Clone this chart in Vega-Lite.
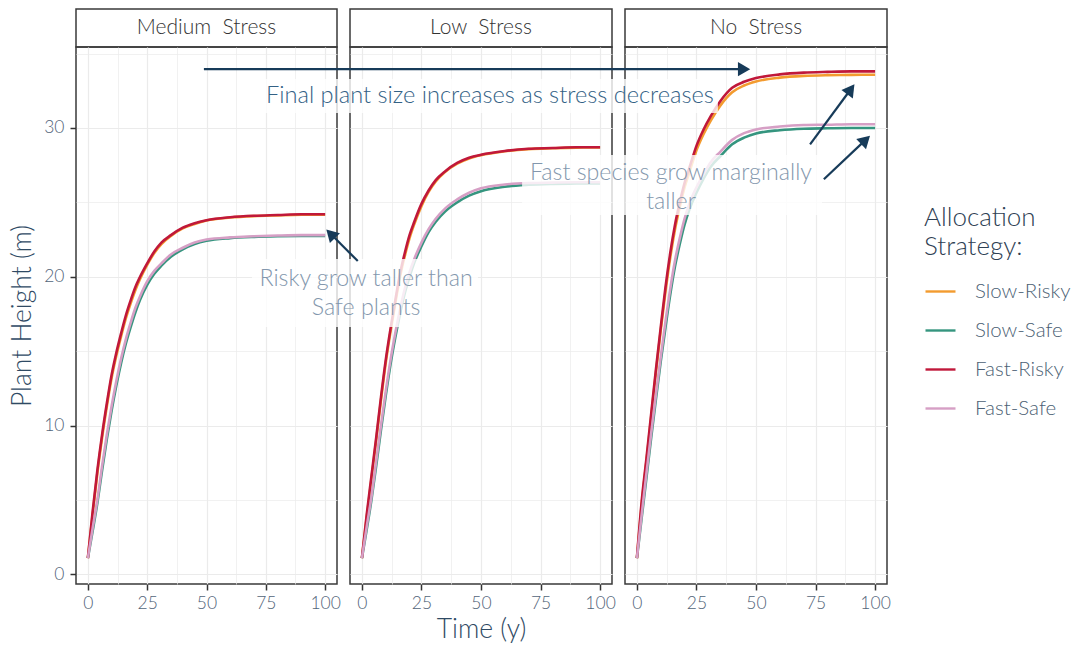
{
  "$schema": "https://vega.github.io/schema/vega-lite/v6.json",
  "background": "white",
  "padding": {"left": 8, "top": 8, "right": 5, "bottom": 0},
  "config": {
    "font": "Lato",
    "view": {"stroke": "#3a3a3a", "strokeWidth": 1.5},
    "axis": {"domain": false, "grid": true, "gridColor": "#EBEBEB", "tickColor": "#333333", "tickSize": 6, "tickWidth": 1.5, "labelFont": "Lato", "labelFontWeight": 300, "labelFontSize": 17.5, "labelColor": "#526479", "labelPadding": 4, "titleFont": "Lato", "titleFontSize": 26.5, "titleFontWeight": 300, "titleColor": "#2F4A64", "labelOverlap": false, "labelFlush": false},
    "legend": {"orient": "none", "legendX": 848, "legendY": 196, "symbolType": "stroke", "symbolSize": 900, "symbolStrokeWidth": 2.4, "labelFont": "Lato", "labelFontWeight": 300, "labelFontSize": 20.5, "labelColor": "#4C5F74", "titleFont": "Lato", "titleFontSize": 26, "titleLineHeight": 29, "titleFontWeight": 300, "titleColor": "#2E4053", "rowPadding": 12, "labelOffset": 18, "titlePadding": 15}
  },
  "datasets": {
    "growth": [
      {"p":"Medium","s":"Slow-Risky","t":0,"h":1.1},{"p":"Medium","s":"Slow-Risky","t":2,"h":4.0},{"p":"Medium","s":"Slow-Risky","t":4,"h":6.8},{"p":"Medium","s":"Slow-Risky","t":6,"h":9.2},{"p":"Medium","s":"Slow-Risky","t":8,"h":11.3},{"p":"Medium","s":"Slow-Risky","t":10,"h":13.2},{"p":"Medium","s":"Slow-Risky","t":12,"h":14.7},{"p":"Medium","s":"Slow-Risky","t":14,"h":16.0},{"p":"Medium","s":"Slow-Risky","t":16,"h":17.2},{"p":"Medium","s":"Slow-Risky","t":18,"h":18.2},{"p":"Medium","s":"Slow-Risky","t":20,"h":19.1},{"p":"Medium","s":"Slow-Risky","t":22,"h":19.85},{"p":"Medium","s":"Slow-Risky","t":25,"h":20.8},{"p":"Medium","s":"Slow-Risky","t":28,"h":21.6},{"p":"Medium","s":"Slow-Risky","t":31,"h":22.2},{"p":"Medium","s":"Slow-Risky","t":35,"h":22.75},{"p":"Medium","s":"Slow-Risky","t":40,"h":23.25},{"p":"Medium","s":"Slow-Risky","t":45,"h":23.55},{"p":"Medium","s":"Slow-Risky","t":50,"h":23.78},{"p":"Medium","s":"Slow-Risky","t":60,"h":23.98},{"p":"Medium","s":"Slow-Risky","t":70,"h":24.08},{"p":"Medium","s":"Slow-Risky","t":80,"h":24.13},{"p":"Medium","s":"Slow-Risky","t":90,"h":24.17},{"p":"Medium","s":"Slow-Risky","t":100,"h":24.18},
      {"p":"Medium","s":"Slow-Safe","t":0,"h":1.1},{"p":"Medium","s":"Slow-Safe","t":2,"h":2.9},{"p":"Medium","s":"Slow-Safe","t":4,"h":4.8},{"p":"Medium","s":"Slow-Safe","t":6,"h":7.0},{"p":"Medium","s":"Slow-Safe","t":8,"h":9.1},{"p":"Medium","s":"Slow-Safe","t":10,"h":11.0},{"p":"Medium","s":"Slow-Safe","t":12,"h":12.7},{"p":"Medium","s":"Slow-Safe","t":14,"h":14.2},{"p":"Medium","s":"Slow-Safe","t":16,"h":15.5},{"p":"Medium","s":"Slow-Safe","t":18,"h":16.6},{"p":"Medium","s":"Slow-Safe","t":20,"h":17.6},{"p":"Medium","s":"Slow-Safe","t":22,"h":18.45},{"p":"Medium","s":"Slow-Safe","t":25,"h":19.45},{"p":"Medium","s":"Slow-Safe","t":28,"h":20.2},{"p":"Medium","s":"Slow-Safe","t":31,"h":20.75},{"p":"Medium","s":"Slow-Safe","t":35,"h":21.35},{"p":"Medium","s":"Slow-Safe","t":40,"h":21.85},{"p":"Medium","s":"Slow-Safe","t":45,"h":22.2},{"p":"Medium","s":"Slow-Safe","t":50,"h":22.42},{"p":"Medium","s":"Slow-Safe","t":60,"h":22.6},{"p":"Medium","s":"Slow-Safe","t":70,"h":22.68},{"p":"Medium","s":"Slow-Safe","t":80,"h":22.72},{"p":"Medium","s":"Slow-Safe","t":90,"h":22.74},{"p":"Medium","s":"Slow-Safe","t":100,"h":22.75},
      {"p":"Medium","s":"Fast-Risky","t":0,"h":1.1},{"p":"Medium","s":"Fast-Risky","t":2,"h":4.2},{"p":"Medium","s":"Fast-Risky","t":4,"h":7.0},{"p":"Medium","s":"Fast-Risky","t":6,"h":9.4},{"p":"Medium","s":"Fast-Risky","t":8,"h":11.5},{"p":"Medium","s":"Fast-Risky","t":10,"h":13.4},{"p":"Medium","s":"Fast-Risky","t":12,"h":14.9},{"p":"Medium","s":"Fast-Risky","t":14,"h":16.2},{"p":"Medium","s":"Fast-Risky","t":16,"h":17.4},{"p":"Medium","s":"Fast-Risky","t":18,"h":18.4},{"p":"Medium","s":"Fast-Risky","t":20,"h":19.3},{"p":"Medium","s":"Fast-Risky","t":22,"h":20.0},{"p":"Medium","s":"Fast-Risky","t":25,"h":20.9},{"p":"Medium","s":"Fast-Risky","t":28,"h":21.7},{"p":"Medium","s":"Fast-Risky","t":31,"h":22.3},{"p":"Medium","s":"Fast-Risky","t":35,"h":22.8},{"p":"Medium","s":"Fast-Risky","t":40,"h":23.3},{"p":"Medium","s":"Fast-Risky","t":45,"h":23.6},{"p":"Medium","s":"Fast-Risky","t":50,"h":23.8},{"p":"Medium","s":"Fast-Risky","t":60,"h":24.0},{"p":"Medium","s":"Fast-Risky","t":70,"h":24.1},{"p":"Medium","s":"Fast-Risky","t":80,"h":24.15},{"p":"Medium","s":"Fast-Risky","t":90,"h":24.2},{"p":"Medium","s":"Fast-Risky","t":100,"h":24.2},
      {"p":"Medium","s":"Fast-Safe","t":0,"h":1.1},{"p":"Medium","s":"Fast-Safe","t":2,"h":3.1},{"p":"Medium","s":"Fast-Safe","t":4,"h":5.0},{"p":"Medium","s":"Fast-Safe","t":6,"h":7.3},{"p":"Medium","s":"Fast-Safe","t":8,"h":9.4},{"p":"Medium","s":"Fast-Safe","t":10,"h":11.3},{"p":"Medium","s":"Fast-Safe","t":12,"h":13.0},{"p":"Medium","s":"Fast-Safe","t":14,"h":14.5},{"p":"Medium","s":"Fast-Safe","t":16,"h":15.8},{"p":"Medium","s":"Fast-Safe","t":18,"h":16.9},{"p":"Medium","s":"Fast-Safe","t":20,"h":17.9},{"p":"Medium","s":"Fast-Safe","t":22,"h":18.7},{"p":"Medium","s":"Fast-Safe","t":25,"h":19.7},{"p":"Medium","s":"Fast-Safe","t":28,"h":20.4},{"p":"Medium","s":"Fast-Safe","t":31,"h":20.9},{"p":"Medium","s":"Fast-Safe","t":35,"h":21.5},{"p":"Medium","s":"Fast-Safe","t":40,"h":21.95},{"p":"Medium","s":"Fast-Safe","t":45,"h":22.3},{"p":"Medium","s":"Fast-Safe","t":50,"h":22.5},{"p":"Medium","s":"Fast-Safe","t":60,"h":22.65},{"p":"Medium","s":"Fast-Safe","t":70,"h":22.72},{"p":"Medium","s":"Fast-Safe","t":80,"h":22.77},{"p":"Medium","s":"Fast-Safe","t":90,"h":22.8},{"p":"Medium","s":"Fast-Safe","t":100,"h":22.8},
      {"p":"Low","s":"Slow-Risky","t":0,"h":1.1},{"p":"Low","s":"Slow-Risky","t":2,"h":3.8},{"p":"Low","s":"Slow-Risky","t":4,"h":6.4},{"p":"Low","s":"Slow-Risky","t":6,"h":9.0},{"p":"Low","s":"Slow-Risky","t":8,"h":11.7},{"p":"Low","s":"Slow-Risky","t":10,"h":14.2},{"p":"Low","s":"Slow-Risky","t":12,"h":16.3},{"p":"Low","s":"Slow-Risky","t":14,"h":18.2},{"p":"Low","s":"Slow-Risky","t":16,"h":20.0},{"p":"Low","s":"Slow-Risky","t":18,"h":21.4},{"p":"Low","s":"Slow-Risky","t":20,"h":22.6},{"p":"Low","s":"Slow-Risky","t":22,"h":23.55},{"p":"Low","s":"Slow-Risky","t":25,"h":24.75},{"p":"Low","s":"Slow-Risky","t":28,"h":25.7},{"p":"Low","s":"Slow-Risky","t":31,"h":26.4},{"p":"Low","s":"Slow-Risky","t":35,"h":27.05},{"p":"Low","s":"Slow-Risky","t":40,"h":27.6},{"p":"Low","s":"Slow-Risky","t":45,"h":27.95},{"p":"Low","s":"Slow-Risky","t":50,"h":28.17},{"p":"Low","s":"Slow-Risky","t":60,"h":28.43},{"p":"Low","s":"Slow-Risky","t":70,"h":28.58},{"p":"Low","s":"Slow-Risky","t":80,"h":28.64},{"p":"Low","s":"Slow-Risky","t":90,"h":28.68},{"p":"Low","s":"Slow-Risky","t":100,"h":28.69},
      {"p":"Low","s":"Slow-Safe","t":0,"h":1.1},{"p":"Low","s":"Slow-Safe","t":2,"h":3.0},{"p":"Low","s":"Slow-Safe","t":4,"h":5.0},{"p":"Low","s":"Slow-Safe","t":6,"h":7.3},{"p":"Low","s":"Slow-Safe","t":8,"h":9.7},{"p":"Low","s":"Slow-Safe","t":10,"h":12.0},{"p":"Low","s":"Slow-Safe","t":12,"h":14.1},{"p":"Low","s":"Slow-Safe","t":14,"h":15.9},{"p":"Low","s":"Slow-Safe","t":16,"h":17.5},{"p":"Low","s":"Slow-Safe","t":18,"h":18.9},{"p":"Low","s":"Slow-Safe","t":20,"h":20.0},{"p":"Low","s":"Slow-Safe","t":22,"h":20.95},{"p":"Low","s":"Slow-Safe","t":25,"h":22.05},{"p":"Low","s":"Slow-Safe","t":28,"h":23.0},{"p":"Low","s":"Slow-Safe","t":31,"h":23.7},{"p":"Low","s":"Slow-Safe","t":35,"h":24.4},{"p":"Low","s":"Slow-Safe","t":40,"h":25.0},{"p":"Low","s":"Slow-Safe","t":45,"h":25.45},{"p":"Low","s":"Slow-Safe","t":50,"h":25.75},{"p":"Low","s":"Slow-Safe","t":60,"h":26.05},{"p":"Low","s":"Slow-Safe","t":70,"h":26.18},{"p":"Low","s":"Slow-Safe","t":80,"h":26.24},{"p":"Low","s":"Slow-Safe","t":90,"h":26.27},{"p":"Low","s":"Slow-Safe","t":100,"h":26.28},
      {"p":"Low","s":"Fast-Risky","t":0,"h":1.1},{"p":"Low","s":"Fast-Risky","t":2,"h":4.0},{"p":"Low","s":"Fast-Risky","t":4,"h":6.6},{"p":"Low","s":"Fast-Risky","t":6,"h":9.2},{"p":"Low","s":"Fast-Risky","t":8,"h":11.9},{"p":"Low","s":"Fast-Risky","t":10,"h":14.4},{"p":"Low","s":"Fast-Risky","t":12,"h":16.5},{"p":"Low","s":"Fast-Risky","t":14,"h":18.4},{"p":"Low","s":"Fast-Risky","t":16,"h":20.2},{"p":"Low","s":"Fast-Risky","t":18,"h":21.6},{"p":"Low","s":"Fast-Risky","t":20,"h":22.8},{"p":"Low","s":"Fast-Risky","t":22,"h":23.7},{"p":"Low","s":"Fast-Risky","t":25,"h":24.9},{"p":"Low","s":"Fast-Risky","t":28,"h":25.8},{"p":"Low","s":"Fast-Risky","t":31,"h":26.5},{"p":"Low","s":"Fast-Risky","t":35,"h":27.1},{"p":"Low","s":"Fast-Risky","t":40,"h":27.65},{"p":"Low","s":"Fast-Risky","t":45,"h":28.0},{"p":"Low","s":"Fast-Risky","t":50,"h":28.2},{"p":"Low","s":"Fast-Risky","t":60,"h":28.45},{"p":"Low","s":"Fast-Risky","t":70,"h":28.6},{"p":"Low","s":"Fast-Risky","t":80,"h":28.65},{"p":"Low","s":"Fast-Risky","t":90,"h":28.7},{"p":"Low","s":"Fast-Risky","t":100,"h":28.7},
      {"p":"Low","s":"Fast-Safe","t":0,"h":1.1},{"p":"Low","s":"Fast-Safe","t":2,"h":3.2},{"p":"Low","s":"Fast-Safe","t":4,"h":5.2},{"p":"Low","s":"Fast-Safe","t":6,"h":7.6},{"p":"Low","s":"Fast-Safe","t":8,"h":10.0},{"p":"Low","s":"Fast-Safe","t":10,"h":12.3},{"p":"Low","s":"Fast-Safe","t":12,"h":14.4},{"p":"Low","s":"Fast-Safe","t":14,"h":16.2},{"p":"Low","s":"Fast-Safe","t":16,"h":17.8},{"p":"Low","s":"Fast-Safe","t":18,"h":19.2},{"p":"Low","s":"Fast-Safe","t":20,"h":20.3},{"p":"Low","s":"Fast-Safe","t":22,"h":21.2},{"p":"Low","s":"Fast-Safe","t":25,"h":22.3},{"p":"Low","s":"Fast-Safe","t":28,"h":23.2},{"p":"Low","s":"Fast-Safe","t":31,"h":23.9},{"p":"Low","s":"Fast-Safe","t":35,"h":24.6},{"p":"Low","s":"Fast-Safe","t":40,"h":25.2},{"p":"Low","s":"Fast-Safe","t":45,"h":25.65},{"p":"Low","s":"Fast-Safe","t":50,"h":25.95},{"p":"Low","s":"Fast-Safe","t":60,"h":26.2},{"p":"Low","s":"Fast-Safe","t":70,"h":26.3},{"p":"Low","s":"Fast-Safe","t":80,"h":26.33},{"p":"Low","s":"Fast-Safe","t":90,"h":26.35},{"p":"Low","s":"Fast-Safe","t":100,"h":26.35},
      {"p":"No","s":"Slow-Risky","t":0,"h":1.1},{"p":"No","s":"Slow-Risky","t":2,"h":4.7},{"p":"No","s":"Slow-Risky","t":4,"h":7.6},{"p":"No","s":"Slow-Risky","t":6,"h":10.6},{"p":"No","s":"Slow-Risky","t":8,"h":13.6},{"p":"No","s":"Slow-Risky","t":10,"h":16.4},{"p":"No","s":"Slow-Risky","t":12,"h":19.0},{"p":"No","s":"Slow-Risky","t":14,"h":21.3},{"p":"No","s":"Slow-Risky","t":16,"h":23.2},{"p":"No","s":"Slow-Risky","t":18,"h":24.7},{"p":"No","s":"Slow-Risky","t":20,"h":26.0},{"p":"No","s":"Slow-Risky","t":22,"h":27.0},{"p":"No","s":"Slow-Risky","t":25,"h":28.5},{"p":"No","s":"Slow-Risky","t":28,"h":29.6},{"p":"No","s":"Slow-Risky","t":31,"h":30.5},{"p":"No","s":"Slow-Risky","t":35,"h":31.5},{"p":"No","s":"Slow-Risky","t":40,"h":32.4},{"p":"No","s":"Slow-Risky","t":45,"h":32.85},{"p":"No","s":"Slow-Risky","t":50,"h":33.12},{"p":"No","s":"Slow-Risky","t":60,"h":33.38},{"p":"No","s":"Slow-Risky","t":70,"h":33.5},{"p":"No","s":"Slow-Risky","t":80,"h":33.55},{"p":"No","s":"Slow-Risky","t":90,"h":33.57},{"p":"No","s":"Slow-Risky","t":100,"h":33.58},
      {"p":"No","s":"Slow-Safe","t":0,"h":1.1},{"p":"No","s":"Slow-Safe","t":2,"h":3.8},{"p":"No","s":"Slow-Safe","t":4,"h":6.5},{"p":"No","s":"Slow-Safe","t":6,"h":9.2},{"p":"No","s":"Slow-Safe","t":8,"h":11.8},{"p":"No","s":"Slow-Safe","t":10,"h":14.3},{"p":"No","s":"Slow-Safe","t":12,"h":16.6},{"p":"No","s":"Slow-Safe","t":14,"h":18.8},{"p":"No","s":"Slow-Safe","t":16,"h":20.7},{"p":"No","s":"Slow-Safe","t":18,"h":22.2},{"p":"No","s":"Slow-Safe","t":20,"h":23.5},{"p":"No","s":"Slow-Safe","t":22,"h":24.5},{"p":"No","s":"Slow-Safe","t":25,"h":25.65},{"p":"No","s":"Slow-Safe","t":28,"h":26.6},{"p":"No","s":"Slow-Safe","t":31,"h":27.4},{"p":"No","s":"Slow-Safe","t":35,"h":28.1},{"p":"No","s":"Slow-Safe","t":40,"h":28.9},{"p":"No","s":"Slow-Safe","t":45,"h":29.35},{"p":"No","s":"Slow-Safe","t":50,"h":29.63},{"p":"No","s":"Slow-Safe","t":60,"h":29.85},{"p":"No","s":"Slow-Safe","t":70,"h":29.95},{"p":"No","s":"Slow-Safe","t":80,"h":29.98},{"p":"No","s":"Slow-Safe","t":90,"h":30.0},{"p":"No","s":"Slow-Safe","t":100,"h":30.0},
      {"p":"No","s":"Fast-Risky","t":0,"h":1.1},{"p":"No","s":"Fast-Risky","t":2,"h":4.9},{"p":"No","s":"Fast-Risky","t":4,"h":7.8},{"p":"No","s":"Fast-Risky","t":6,"h":10.8},{"p":"No","s":"Fast-Risky","t":8,"h":13.8},{"p":"No","s":"Fast-Risky","t":10,"h":16.6},{"p":"No","s":"Fast-Risky","t":12,"h":19.3},{"p":"No","s":"Fast-Risky","t":14,"h":21.6},{"p":"No","s":"Fast-Risky","t":16,"h":23.5},{"p":"No","s":"Fast-Risky","t":18,"h":25.0},{"p":"No","s":"Fast-Risky","t":20,"h":26.3},{"p":"No","s":"Fast-Risky","t":22,"h":27.3},{"p":"No","s":"Fast-Risky","t":25,"h":28.8},{"p":"No","s":"Fast-Risky","t":28,"h":29.9},{"p":"No","s":"Fast-Risky","t":31,"h":30.8},{"p":"No","s":"Fast-Risky","t":35,"h":31.8},{"p":"No","s":"Fast-Risky","t":40,"h":32.7},{"p":"No","s":"Fast-Risky","t":45,"h":33.1},{"p":"No","s":"Fast-Risky","t":50,"h":33.35},{"p":"No","s":"Fast-Risky","t":60,"h":33.6},{"p":"No","s":"Fast-Risky","t":70,"h":33.72},{"p":"No","s":"Fast-Risky","t":80,"h":33.77},{"p":"No","s":"Fast-Risky","t":90,"h":33.8},{"p":"No","s":"Fast-Risky","t":100,"h":33.8},
      {"p":"No","s":"Fast-Safe","t":0,"h":1.1},{"p":"No","s":"Fast-Safe","t":2,"h":4.0},{"p":"No","s":"Fast-Safe","t":4,"h":6.8},{"p":"No","s":"Fast-Safe","t":6,"h":9.5},{"p":"No","s":"Fast-Safe","t":8,"h":12.1},{"p":"No","s":"Fast-Safe","t":10,"h":14.6},{"p":"No","s":"Fast-Safe","t":12,"h":17.0},{"p":"No","s":"Fast-Safe","t":14,"h":19.2},{"p":"No","s":"Fast-Safe","t":16,"h":21.1},{"p":"No","s":"Fast-Safe","t":18,"h":22.6},{"p":"No","s":"Fast-Safe","t":20,"h":23.9},{"p":"No","s":"Fast-Safe","t":22,"h":24.9},{"p":"No","s":"Fast-Safe","t":25,"h":26.0},{"p":"No","s":"Fast-Safe","t":28,"h":26.9},{"p":"No","s":"Fast-Safe","t":31,"h":27.7},{"p":"No","s":"Fast-Safe","t":35,"h":28.4},{"p":"No","s":"Fast-Safe","t":40,"h":29.2},{"p":"No","s":"Fast-Safe","t":45,"h":29.65},{"p":"No","s":"Fast-Safe","t":50,"h":29.9},{"p":"No","s":"Fast-Safe","t":60,"h":30.1},{"p":"No","s":"Fast-Safe","t":70,"h":30.2},{"p":"No","s":"Fast-Safe","t":80,"h":30.22},{"p":"No","s":"Fast-Safe","t":90,"h":30.25},{"p":"No","s":"Fast-Safe","t":100,"h":30.25}
    ]
  },
  "bounds": "flush",
  "columns": 3,
  "spacing": {"row": 0, "column": 13},
  "concat": [
    {
      "width": 261, "height": 38,
      "view": {"fill": "white", "stroke": "#3a3a3a", "strokeWidth": 1.5},
      "data": {"values": [{"lab": "Medium\u00a0 Stress"}]},
      "mark": {"type": "text", "font": "Lato", "fontWeight": 300, "fontSize": 21, "color": "#333333"},
      "encoding": {"text": {"field": "lab"}}
    },
    {
      "width": 262, "height": 38,
      "view": {"fill": "white", "stroke": "#3a3a3a", "strokeWidth": 1.5},
      "data": {"values": [{"lab": "Low\u00a0 Stress"}]},
      "mark": {"type": "text", "font": "Lato", "fontWeight": 300, "fontSize": 21, "color": "#333333"},
      "encoding": {"text": {"field": "lab"}}
    },
    {
      "width": 262, "height": 38,
      "view": {"fill": "white", "stroke": "#3a3a3a", "strokeWidth": 1.5},
      "data": {"values": [{"lab": "No\u00a0 Stress"}]},
      "mark": {"type": "text", "font": "Lato", "fontWeight": 300, "fontSize": 21, "color": "#333333"},
      "encoding": {"text": {"field": "lab"}}
    },
    {
      "width": 261, "height": 537,
      "data": {"name": "growth"},
      "transform": [{"filter": "datum.p === 'Medium'"}],
      "mark": {"type": "line", "strokeWidth": 2.6, "interpolate": "monotone"},
      "encoding": {
        "x": {"field": "t", "type": "quantitative", "scale": {"domain": [-5, 105], "nice": false, "zero": false},
              "axis": {"values": [0,12.5,25,37.5,50,62.5,75,87.5,100], "labelExpr": "datum.value % 25 === 0 ? datum.label : ''", "tickOpacity": {"condition": {"test": "datum.value % 25 === 0", "value": 1}, "value": 0}, "gridWidth": {"condition": {"test": "datum.value % 25 === 0", "value": 1.2}, "value": 0.7}, "title": null}},
        "y": {"field": "h", "type": "quantitative", "scale": {"domain": [-0.64, 35.44], "nice": false, "zero": false},
              "axis": {"values": [0,5,10,15,20,25,30,35], "labelExpr": "datum.value % 10 === 0 ? datum.label : ''", "tickOpacity": {"condition": {"test": "datum.value % 10 === 0", "value": 1}, "value": 0}, "gridWidth": {"condition": {"test": "datum.value % 10 === 0", "value": 1.2}, "value": 0.7}, "title": "Plant Height (m)", "titlePadding": 7, "labelPadding": 6}},
        "color": {"field": "s", "type": "nominal", "scale": {"domain": ["Slow-Risky","Slow-Safe","Fast-Risky","Fast-Safe"], "range": ["#F39B2F","#35957F","#C0183A","#D69FC5"]}, "legend": {"title": ["Allocation", "Strategy:"]}}
      }
    },
    {
      "width": 262, "height": 537,
      "data": {"name": "growth"},
      "transform": [{"filter": "datum.p === 'Low'"}],
      "mark": {"type": "line", "strokeWidth": 2.6, "interpolate": "monotone"},
      "encoding": {
        "x": {"field": "t", "type": "quantitative", "scale": {"domain": [-5, 105], "nice": false, "zero": false},
              "axis": {"values": [0,12.5,25,37.5,50,62.5,75,87.5,100], "labelExpr": "datum.value % 25 === 0 ? datum.label : ''", "tickOpacity": {"condition": {"test": "datum.value % 25 === 0", "value": 1}, "value": 0}, "gridWidth": {"condition": {"test": "datum.value % 25 === 0", "value": 1.2}, "value": 0.7}, "title": "Time (y)", "titlePadding": 5}},
        "y": {"field": "h", "type": "quantitative", "scale": {"domain": [-0.64, 35.44], "nice": false, "zero": false},
              "axis": {"values": [0,5,10,15,20,25,30,35], "labels": false, "ticks": false, "gridWidth": {"condition": {"test": "datum.value % 10 === 0", "value": 1.2}, "value": 0.7}, "title": null}},
        "color": {"field": "s", "type": "nominal", "scale": {"domain": ["Slow-Risky","Slow-Safe","Fast-Risky","Fast-Safe"], "range": ["#F39B2F","#35957F","#C0183A","#D69FC5"]}, "legend": {"title": ["Allocation", "Strategy:"]}}
      }
    },
    {
      "width": 262, "height": 537,
      "encoding": {
        "x": {"type": "quantitative", "scale": {"domain": [-5, 105], "nice": false, "zero": false},
              "axis": {"values": [0,12.5,25,37.5,50,62.5,75,87.5,100], "labelExpr": "datum.value % 25 === 0 ? datum.label : ''", "tickOpacity": {"condition": {"test": "datum.value % 25 === 0", "value": 1}, "value": 0}, "gridWidth": {"condition": {"test": "datum.value % 25 === 0", "value": 1.2}, "value": 0.7}, "title": null}},
        "y": {"type": "quantitative", "scale": {"domain": [-0.64, 35.44], "nice": false, "zero": false},
              "axis": {"values": [0,5,10,15,20,25,30,35], "labels": false, "ticks": false, "gridWidth": {"condition": {"test": "datum.value % 10 === 0", "value": 1.2}, "value": 0.7}, "title": null}}
      },
      "layer": [
        {
          "data": {"name": "growth"},
          "transform": [{"filter": "datum.p === 'No'"}],
          "mark": {"type": "line", "strokeWidth": 2.6, "interpolate": "monotone"},
          "encoding": {
            "x": {"field": "t", "type": "quantitative"},
            "y": {"field": "h", "type": "quantitative"},
            "color": {"field": "s", "type": "nominal", "scale": {"domain": ["Slow-Risky","Slow-Safe","Fast-Risky","Fast-Safe"], "range": ["#F39B2F","#35957F","#C0183A","#D69FC5"]}, "legend": {"title": ["Allocation", "Strategy:"]}}
          }
        },
        {
          "data": {"values": [{}]},
          "mark": {"type": "rect", "fill": "white", "opacity": 0.8},
          "encoding": {"x": {"datum": -157.4, "type": "quantitative"}, "x2": {"datum": 34.0}, "y": {"datum": 33.29, "type": "quantitative"}, "y2": {"datum": 31.0}}
        },
        {
          "data": {"values": [{}]},
          "mark": {"type": "rect", "fill": "white", "opacity": 0.8},
          "encoding": {"x": {"datum": -161.6, "type": "quantitative"}, "x2": {"datum": -66.7}, "y": {"datum": 21.19, "type": "quantitative"}, "y2": {"datum": 16.62}}
        },
        {
          "data": {"values": [{}]},
          "mark": {"type": "rect", "fill": "white", "opacity": 0.8},
          "encoding": {"x": {"datum": -48.2, "type": "quantitative"}, "x2": {"datum": 77.7}, "y": {"datum": 28.18, "type": "quantitative"}, "y2": {"datum": 24.15}}
        },
        {
          "data": {"values": [{}]},
          "mark": {"type": "text", "font": "Lato", "fontWeight": 300, "fontSize": 23.6, "color": "#336185", "baseline": "middle", "align": "center"},
          "encoding": {"x": {"datum": -61.7, "type": "quantitative"}, "y": {"datum": 32.15, "type": "quantitative"}, "text": {"value": "Final plant size increases as stress decreases"}}
        },
        {
          "data": {"values": [{}]},
          "mark": {"type": "text", "font": "Lato", "fontWeight": 300, "fontSize": 23.2, "color": "#8397AD", "baseline": "middle", "align": "center", "lineBreak": "\n", "lineHeight": 29},
          "encoding": {"x": {"datum": -113.7, "type": "quantitative"}, "y": {"datum": 19.85, "type": "quantitative"}, "text": {"value": "Risky grow taller than\nSafe plants"}}
        },
        {
          "data": {"values": [{}]},
          "mark": {"type": "text", "font": "Lato", "fontWeight": 300, "fontSize": 23.2, "color": "#8397AD", "baseline": "middle", "align": "center", "lineBreak": "\n", "lineHeight": 29},
          "encoding": {"x": {"datum": 14.3, "type": "quantitative"}, "y": {"datum": 26.97, "type": "quantitative"}, "text": {"value": "Fast species grow marginally\ntaller"}}
        },
        {
          "data": {"values": [{}]},
          "mark": {"type": "rule", "strokeWidth": 2.2, "color": "#173B59"},
          "encoding": {"x": {"datum": -181.8, "type": "quantitative"}, "x2": {"datum": 45.0}, "y": {"datum": 33.95, "type": "quantitative"}, "y2": {"datum": 33.95}}
        },
        {
          "data": {"values": [{}]},
          "mark": {"type": "rule", "strokeWidth": 2.2, "color": "#173B59"},
          "encoding": {"x": {"datum": -117.2, "type": "quantitative"}, "x2": {"datum": -128.6}, "y": {"datum": 21.06, "type": "quantitative"}, "y2": {"datum": 22.89}}
        },
        {
          "data": {"values": [{}]},
          "mark": {"type": "rule", "strokeWidth": 2.2, "color": "#173B59"},
          "encoding": {"x": {"datum": 72.7, "type": "quantitative"}, "x2": {"datum": 89.8}, "y": {"datum": 28.9, "type": "quantitative"}, "y2": {"datum": 32.6}}
        },
        {
          "data": {"values": [{}]},
          "mark": {"type": "rule", "strokeWidth": 2.2, "color": "#173B59"},
          "encoding": {"x": {"datum": 78.5, "type": "quantitative"}, "x2": {"datum": 96.0}, "y": {"datum": 26.55, "type": "quantitative"}, "y2": {"datum": 29.2}}
        },
        {
          "data": {"values": [{}]},
          "mark": {"type": "point", "shape": "triangle-up", "filled": true, "size": 200, "color": "#173B59", "opacity": 1},
          "encoding": {"x": {"datum": 45.0, "type": "quantitative"}, "y": {"datum": 33.95, "type": "quantitative"}, "angle": {"value": 90}}
        },
        {
          "data": {"values": [{}]},
          "mark": {"type": "point", "shape": "triangle-up", "filled": true, "size": 200, "color": "#173B59", "opacity": 1},
          "encoding": {"x": {"datum": -128.6, "type": "quantitative"}, "y": {"datum": 22.89, "type": "quantitative"}, "angle": {"value": 315.3}}
        },
        {
          "data": {"values": [{}]},
          "mark": {"type": "point", "shape": "triangle-up", "filled": true, "size": 200, "color": "#173B59", "opacity": 1},
          "encoding": {"x": {"datum": 89.8, "type": "quantitative"}, "y": {"datum": 32.6, "type": "quantitative"}, "angle": {"value": 36.6}}
        },
        {
          "data": {"values": [{}]},
          "mark": {"type": "point", "shape": "triangle-up", "filled": true, "size": 200, "color": "#173B59", "opacity": 1},
          "encoding": {"x": {"datum": 96.0, "type": "quantitative"}, "y": {"datum": 29.2, "type": "quantitative"}, "angle": {"value": 46.5}}
        }
      ]
    }
  ]
}
